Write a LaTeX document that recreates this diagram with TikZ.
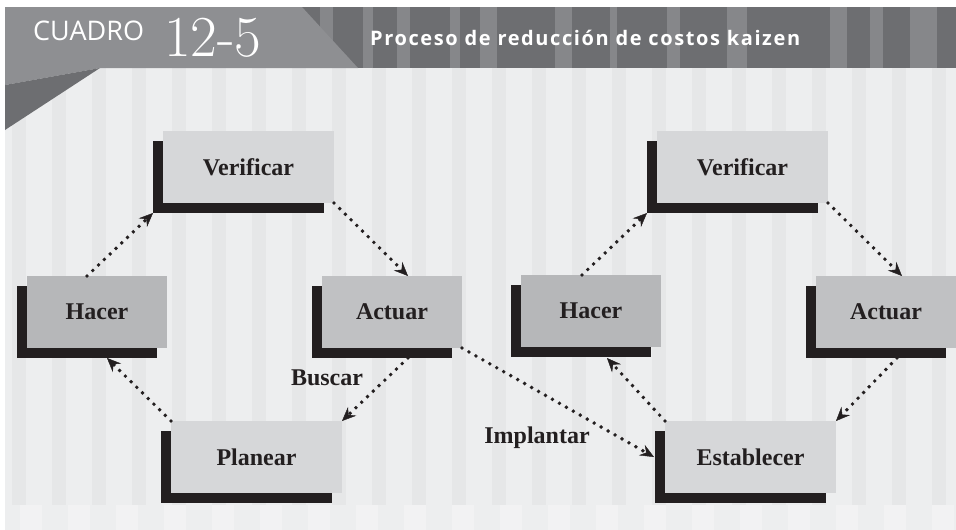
\documentclass[tikz,border=0pt]{standalone}
\usepackage{fontspec}
\newfontfamily\boxfont{Liberation Serif}
\newfontfamily\headfont{Open Sans}
\usetikzlibrary{arrows.meta, shadows}
\definecolor{ink}{HTML}{231F20}
\definecolor{boxlight}{HTML}{D6D7D9}
\definecolor{boxmid}{HTML}{B6B7B9}
\definecolor{boxact}{HTML}{C0C1C3}
\definecolor{bgbase}{HTML}{EDEEEF}
\definecolor{bgstripe}{HTML}{E6E7E8}
\definecolor{bgtile}{HTML}{F2F2F3}
\definecolor{headgray}{HTML}{8E8F92}
\definecolor{headdark}{HTML}{6D6E71}
\definecolor{headstripe}{HTML}{86878A}
\tikzset{
  >={Stealth[length=14pt, width=12pt, inset=5pt, line width=0.4pt]},
  stage/.style={% process step, dark shadow down-left
    rectangle, fill=boxlight, text=ink, minimum height=72pt,
    inner sep=2pt, outer sep=0pt,
    font=\boxfont\bfseries\fontsize{24}{28}\selectfont,
    drop shadow={shadow xshift=-10pt, shadow yshift=-10pt, fill=ink, opacity=1}},
  widestage/.style={stage, minimum width=171pt},
  narrowstage/.style={stage, minimum width=140pt, fill=boxmid},
  flow/.style={->, draw=ink, line width=3.9pt, line cap=round, dash pattern=on 0pt off 8pt},
  flowlabel/.style={text=ink, inner sep=0pt, font=\boxfont\bfseries\fontsize{24}{28}\selectfont},
}

\begin{document}
\begin{tikzpicture}[x=1pt, y=-1pt]

  % ----- frame and striped background ---------------------------------------
  \useasboundingbox (0,0) rectangle (956,530);
  \fill[white] (0,0) rectangle (956,530);
  \fill[bgbase] (5,68) rectangle (956,530);
  \foreach \x in {12,52,...,956} {\fill[bgstripe] (\x,68) rectangle ++(14,437);}
  \foreach \x in {20,68,...,956} {\fill[bgtile] (\x,505) rectangle ++(22,25);}

  % ----- header band --------------------------------------------------------
  \fill[headdark] (300,7) rectangle (956,68);
  \foreach \a/\b in {320/333, 363/373, 397/410, 450/460, 480/497, 555/572, 610/617,
                     667/680, 727/747, 830/847, 870/883, 910/937}
    {\fill[headstripe] (\a,7) rectangle (\b,68);}
  \fill[headgray] (5,7) -- (302,7) -- (358,68) -- (100,68) -- (5,85) -- cycle;
  \fill[headdark] (5,85) -- (100,68) -- (5,130) -- cycle;

  \node[text=white, inner sep=0pt, anchor=base west,
        font=\headfont\fontsize{27}{30}\selectfont] (cuadro) at (33,40) {CUADRO};
  \node[text=white, inner sep=0pt, anchor=base west,
        font=\fontsize{58}{60}\selectfont] (num) at (164,56) {12-5};
  \node[text=white, inner sep=0pt, anchor=base west,
        font=\headfont\bfseries\fontsize{20}{24}\selectfont\addfontfeature{LetterSpace=8}]
        (title) at (370,45) {Proceso de reducción de costos kaizen};

  % ----- left cycle ---------------------------------------------------------
  \node[widestage]                (verL) at (248.5,167) {Verificar};
  \node[narrowstage]              (hacL) at (97,312)    {Hacer};
  \node[narrowstage, fill=boxact] (actL) at (392,312)   {Actuar};
  \node[widestage]                (plan) at (256.5,457) {Planear};

  % ----- right cycle --------------------------------------------------------
  \node[widestage]                (verR) at (742.5,167) {Verificar};
  \node[narrowstage]              (hacR) at (591,311)   {Hacer};
  \node[narrowstage, fill=boxact] (actR) at (886,312)   {Actuar};
  \node[widestage]                (est)  at (750.5,457) {Establecer};

  % ----- dotted flows -------------------------------------------------------
  \draw[flow] ([xshift=-10pt]hacL.north) -- ([xshift=-10pt,yshift=-10pt]verL.south west);
  \draw[flow] (verL.south east) -- ([xshift=16pt]actL.north);
  \draw[flow] ([xshift=16pt,yshift=-10pt]actL.south) -- (plan.north east);
  \draw[flow] (plan.north west) -- ([xshift=10pt,yshift=-10pt]hacL.south);
  \draw[flow] (actL.south east) -- ([xshift=-11pt]est.west);

  \draw[flow] (est.north west) -- ([xshift=16pt,yshift=-11pt]hacR.south);
  \draw[flow] ([xshift=-9pt]hacR.north) -- ([xshift=-10pt,yshift=-10pt]verR.south west);
  \draw[flow] (verR.south east) -- ([xshift=16pt]actR.north);
  \draw[flow] ([xshift=11pt,yshift=-10pt]actR.south) -- (est.north east);

  \node[flowlabel] (buscar) at (327,378) {Buscar};
  \node[flowlabel] (implantar) at (537,438) {Implantar};

\end{tikzpicture}
\end{document}
